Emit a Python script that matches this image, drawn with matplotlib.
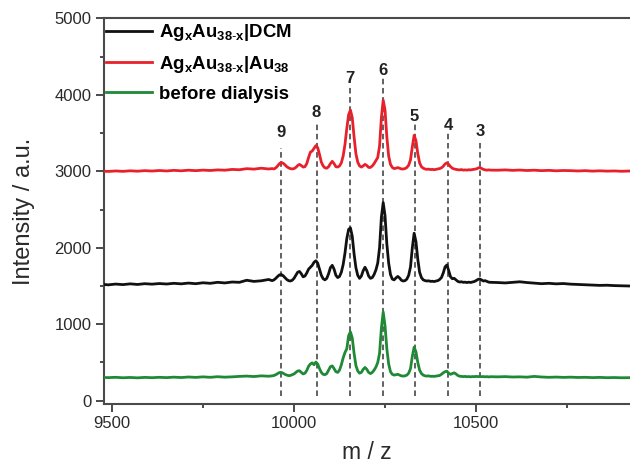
import matplotlib
matplotlib.use('Agg')
import matplotlib.pyplot as plt
from matplotlib.ticker import MultipleLocator

plt.rcParams['font.family'] = ['Liberation Sans', 'DejaVu Sans']
plt.rcParams['mathtext.fontset'] = 'custom'
plt.rcParams['mathtext.rm'] = 'Liberation Sans'
plt.rcParams['mathtext.bf'] = 'Liberation Sans:bold'
plt.rcParams['mathtext.it'] = 'Liberation Sans:italic'
plt.rcParams['lines.scale_dashes'] = False

# ---------------- data ----------------
mz = [9470, 9490, 9510, 9530, 9550, 9570, 9590, 9610, 9630, 9650,
      9670, 9690, 9710, 9730, 9750, 9770, 9790, 9810, 9830, 9850,
      9870, 9890, 9910, 9930,
      9940, 9945, 9950, 9955, 9960, 9965, 9970, 9975, 9980, 9985,
      9990, 9995, 10000, 10005, 10010, 10015, 10020, 10025, 10030, 10035,
      10040, 10045, 10050, 10055, 10060, 10065, 10070, 10075, 10080, 10085,
      10090, 10095, 10100, 10105, 10110, 10115, 10120, 10125, 10130, 10135,
      10140, 10145, 10150, 10155, 10160, 10165, 10170, 10175, 10180, 10185,
      10190, 10195, 10200, 10205, 10210, 10215, 10220, 10225, 10230, 10235,
      10240, 10245, 10250, 10255, 10260, 10265, 10270, 10275, 10280, 10285,
      10290, 10295, 10300, 10305, 10310, 10315, 10320, 10325, 10330, 10335,
      10340, 10345, 10350, 10355, 10360, 10365, 10370, 10375, 10380, 10385,
      10390, 10395, 10400, 10405, 10410, 10415, 10420, 10425, 10430, 10435,
      10440, 10445, 10450, 10455, 10460, 10465, 10470, 10475, 10480, 10485,
      10490, 10495, 10500, 10505, 10510, 10515, 10520, 10525, 10530, 10535,
      10540,
      10560, 10580, 10600, 10620, 10640, 10660, 10680, 10700, 10720, 10740,
      10760, 10780, 10800, 10820, 10840, 10860, 10880, 10900, 10920, 10940]

int_dcm = [1522, 1515, 1525, 1518, 1528, 1520, 1530, 1524, 1532, 1526,
           1535, 1528, 1538, 1530, 1542, 1535, 1548, 1540, 1552, 1548,
           1575, 1560, 1568, 1585,
           1570, 1580, 1600, 1625, 1645, 1650, 1635, 1610, 1585, 1570,
           1565, 1575, 1600, 1640, 1680, 1690, 1660, 1620, 1630, 1670,
           1720, 1745, 1770, 1810, 1830, 1800, 1720, 1640, 1595, 1580,
           1600, 1660, 1740, 1770, 1720, 1640, 1610, 1625, 1680, 1780,
           1930, 2120, 2240, 2260, 2150, 1920, 1740, 1640, 1600, 1630,
           1700, 1745, 1700, 1630, 1600, 1610, 1650, 1710, 1800, 2000,
           2400, 2590, 2420, 2050, 1800, 1650, 1590, 1580, 1605, 1625,
           1605, 1575, 1565, 1570, 1590, 1640, 1750, 2000, 2190, 2080,
           1850, 1680, 1610, 1580, 1570, 1565, 1568, 1560, 1562, 1558,
           1565, 1570, 1585, 1610, 1670, 1750, 1775, 1700, 1620, 1595,
           1600, 1580, 1560, 1552, 1555, 1548, 1550, 1545, 1550, 1546,
           1552, 1558, 1570, 1585, 1592, 1580, 1565, 1570, 1560, 1550,
           1548,
           1545, 1540, 1548, 1555, 1545, 1538, 1530, 1535, 1528, 1532,
           1524, 1520, 1515, 1512, 1508, 1510, 1505, 1502, 1500, 1498]

int_au38 = [3002, 2998, 3004, 2999, 3006, 3001, 3008, 3003, 3010, 3004,
            3012, 3006, 3014, 3008, 3015, 3010, 3018, 3014, 3024, 3020,
            3034, 3028, 3040, 3030,
            3035, 3030, 3045, 3070, 3100, 3115, 3105, 3085, 3060, 3045,
            3035, 3030, 3035, 3050, 3075, 3090, 3075, 3055, 3060, 3100,
            3180, 3250, 3265, 3300, 3335, 3310, 3220, 3120, 3070, 3045,
            3040, 3060, 3100, 3130, 3100, 3060, 3055, 3070, 3110, 3200,
            3350, 3560, 3740, 3800, 3700, 3450, 3230, 3120, 3070, 3055,
            3070, 3090, 3075, 3050, 3050, 3070, 3100, 3140, 3180, 3330,
            3700, 3930, 3800, 3450, 3200, 3090, 3050, 3035, 3040, 3048,
            3040, 3030, 3030, 3035, 3050, 3080, 3150, 3320, 3470, 3400,
            3230, 3110, 3060, 3040, 3030, 3025, 3028, 3022, 3025, 3020,
            3025, 3030, 3035, 3045, 3065, 3095, 3110, 3090, 3060, 3040,
            3030, 3025, 3020, 3018, 3022, 3015, 3018, 3015, 3020, 3018,
            3022, 3025, 3030, 3040, 3050, 3038, 3025, 3018, 3015, 3018,
            3015,
            3014, 3018, 3012, 3016, 3010, 3014, 3008, 3012, 3006, 3010,
            3008, 3004, 3008, 3002, 3006, 3002, 3004, 3000, 3003, 3000]

int_before = [305, 302, 306, 300, 304, 299, 305, 301, 306, 302,
              308, 303, 310, 305, 312, 306, 314, 308, 312, 318,
              322, 316, 325, 320,
              325, 330, 340, 355, 368, 370, 360, 345, 335, 328,
              330, 340, 350, 370, 388, 392, 370, 350, 360, 395,
              450, 480, 495, 470, 505, 480, 420, 370, 345, 340,
              355, 400, 445, 455, 420, 380, 370, 400, 470, 560,
              630, 680, 850, 900, 820, 620, 460, 390, 360, 370,
              410, 435, 410, 370, 355, 370, 400, 440, 500, 620,
              950, 1160, 980, 680, 480, 380, 345, 335, 340, 345,
              335, 325, 322, 325, 335, 360, 420, 580, 700, 640,
              500, 400, 355, 335, 325, 322, 325, 318, 320, 318,
              322, 325, 330, 345, 365, 380, 385, 360, 345, 355,
              365, 350, 330, 320, 318, 315, 318, 313, 316, 312,
              316, 314, 318, 315, 318, 314, 316, 312, 315, 311,
              314,
              312, 315, 310, 312, 308, 318, 310, 306, 309, 305,
              308, 304, 306, 302, 305, 301, 303, 300, 302, 300]

series_labels = [r'Ag$_{\mathbf{x}}$Au$_{\mathbf{38\text{-}x}}$|DCM',
                 r'Ag$_{\mathbf{x}}$Au$_{\mathbf{38\text{-}x}}$|Au$_{\mathbf{38}}$',
                 'before dialysis']
series_colors = ['#111111', '#e8202a', '#1f8a35']

peak_labels = ['9', '8', '7', '6', '5', '4', '3']
peak_mz = [9964, 10062, 10154, 10244, 10331, 10423, 10511]
peak_label_y = [3503, 3765, 4210, 4315, 3722, 3604, 3516]
peak_line_top = [3303, 3643, 4127, 4231, 3617, 3500, 3408]
peak_line_bottom = 60

for arr in (int_dcm, int_au38, int_before):
    if len(arr) != len(mz):
        raise ValueError(f"length mismatch {len(arr)} vs {len(mz)}")

# ---------------- figure ----------------
fig = plt.figure(figsize=(6.3, 4.66), dpi=100)
ax = fig.add_axes([104/630, 1 - 404/466, (630 - 104)/630, (404 - 18)/466])

ax.vlines(peak_mz, peak_line_bottom, peak_line_top, colors='#555555',
          linewidth=1.3, linestyles=(0, (4.0, 2.6)), zorder=1)

lw = 2.0
h1, = ax.plot(mz, int_dcm, color=series_colors[0], lw=lw, zorder=3)
h2, = ax.plot(mz, int_au38, color=series_colors[1], lw=lw, zorder=3)
h3, = ax.plot(mz, int_before, color=series_colors[2], lw=lw, zorder=3)

for lab, x, y in zip(peak_labels, peak_mz, peak_label_y):
    ax.text(x, y, lab, ha='center', va='center', fontsize=12,
            fontweight='bold', color='#222222')

ax.set_xlim(9478, 10923)
ax.set_ylim(-43, 5004)
ax.xaxis.set_major_locator(MultipleLocator(500))
ax.xaxis.set_minor_locator(MultipleLocator(250))
ax.yaxis.set_major_locator(MultipleLocator(1000))
ax.yaxis.set_minor_locator(MultipleLocator(500))

spine_c = '#4a4a4a'
for s in ['left', 'bottom', 'top']:
    ax.spines[s].set_color(spine_c)
    ax.spines[s].set_linewidth(1.5)
ax.spines['right'].set_visible(False)

ax.tick_params(axis='both', which='major', direction='out', length=5.5,
               width=1.4, color=spine_c, labelsize=12, labelcolor='#2a2a2a', pad=3.5)
ax.tick_params(axis='both', which='minor', direction='out', length=3,
               width=1.4, color=spine_c)
ax.tick_params(top=False, right=False, which='both')

ax.set_xlabel('m / z', fontsize=16.5, color='#2a2a2a', labelpad=7)
ax.set_ylabel('Intensity / a.u.', fontsize=17, color='#2a2a2a', labelpad=14)

leg = ax.legend([h1, h2, h3], series_labels, loc='upper left',
                bbox_to_anchor=(0.0, 0.994), frameon=False,
                prop={'weight': 'bold', 'size': 13.4},
                handlelength=2.5, handletextpad=0.35, labelspacing=0.58,
                borderpad=0.1, borderaxespad=0.0)

fig.savefig('out.png', dpi=100)
